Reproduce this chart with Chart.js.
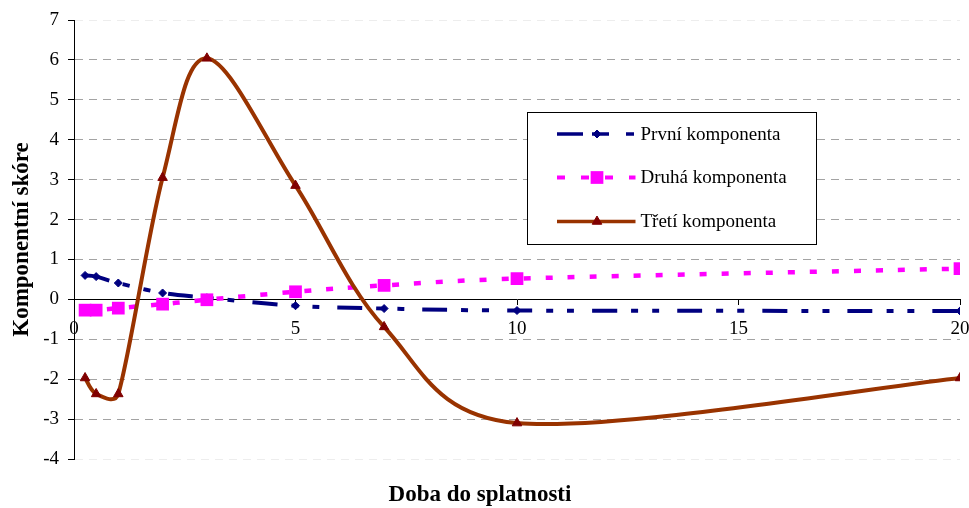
<!DOCTYPE html>
<html>
<head>
<meta charset="utf-8">
<title>Komponentní skóre</title>
<script src="https://cdn.jsdelivr.net/npm/chart.js@4.4.1/dist/chart.umd.min.js"></script>
<style>
  html, body { margin: 0; padding: 0; background: #ffffff; }
  canvas { display: block; }
</style>
</head>
<body>
<canvas id="chart" width="969" height="508"></canvas>
<script>
// Doba do splatnosti (roky)
const maturities = [0.25, 0.5, 1, 2, 3, 5, 7, 10, 20];

// Skóre hlavních komponent
const prvniKomponenta = [0.60, 0.57, 0.41, 0.16, 0.04, -0.16, -0.23, -0.28, -0.29];
const druhaKomponenta = [-0.27, -0.27, -0.22, -0.12, -0.01, 0.19, 0.35, 0.52, 0.77];
const tretiKomponenta = [-1.97, -2.37, -2.37, 3.05, 6.04, 2.85, -0.69, -3.10, -1.97];

const seriesNames = ['První komponenta', 'Druhá komponenta', 'Třetí komponenta'];
const axisTitles = { x: 'Doba do splatnosti', y: 'Komponentní skóre' };
const xTickStep = 5;
const yTickStep = 1;

const SERIF = "'Liberation Serif', 'Times New Roman', serif";

function toPoints(values) {
  return maturities.map((m, i) => ({ x: m, y: values[i] }));
}

// Spreadsheet-style smoothing: Catmull-Rom tangents (1/6 of the neighbour
// chord), each control arm limited to half of its adjacent segment.
const spreadsheetSmoothing = {
  id: 'spreadsheetSmoothing',
  beforeDatasetsDraw(chart) {
    chart.data.datasets.forEach((ds, di) => {
      const meta = chart.getDatasetMeta(di);
      if (!meta.dataset) return;
      meta.dataset.updateControlPoints(chart.chartArea, 'x');
      const pts = meta.data;
      const n = pts.length;
      for (let i = 0; i < n; i++) {
        const p = pts[i];
        const prev = pts[Math.max(i - 1, 0)];
        const next = pts[Math.min(i + 1, n - 1)];
        const tx = (next.x - prev.x) / 6;
        const ty = (next.y - prev.y) / 6;
        const len = Math.hypot(tx, ty);
        const dPrev = Math.hypot(p.x - prev.x, p.y - prev.y);
        const dNext = Math.hypot(next.x - p.x, next.y - p.y);
        const sIn = len > 0.5 * dPrev && len > 0 ? (0.5 * dPrev) / len : 1;
        const sOut = len > 0.5 * dNext && len > 0 ? (0.5 * dNext) / len : 1;
        p.cp1x = p.x - tx * sIn;
        p.cp1y = p.y - ty * sIn;
        p.cp2x = p.x + tx * sOut;
        p.cp2y = p.y + ty * sOut;
      }
      meta.dataset._path = undefined;
    });
  }
};

// Legend drawn inside the plot, with a line sample and marker per series
const boxLegend = {
  id: 'boxLegend',
  afterDatasetsDraw(chart) {
    const { ctx, chartArea } = chart;
    const left = chartArea.left + 453.5;
    const top = chartArea.top + 92.5;
    const width = 289;
    const height = 132;
    ctx.save();
    ctx.fillStyle = '#ffffff';
    ctx.fillRect(left, top, width, height);
    ctx.strokeStyle = '#000000';
    ctx.lineWidth = 1;
    ctx.setLineDash([]);
    ctx.strokeRect(left, top, width, height);

    const rowY = [top + 21.5, top + 65, top + 109];
    const lineX0 = left + 29.5;
    const lineX1 = left + 108;
    const markX = left + 69.5;
    const textX = left + 113;

    chart.data.datasets.forEach((ds, i) => {
      const y = rowY[i];
      ctx.save();
      ctx.strokeStyle = ds.borderColor;
      ctx.lineWidth = ds.legendLineWidth || ds.borderWidth;
      ctx.lineCap = 'butt';
      ctx.setLineDash(ds.legendDash || []);
      ctx.beginPath();
      ctx.moveTo(lineX0, y);
      ctx.lineTo(lineX1, y);
      ctx.stroke();
      ctx.setLineDash([]);
      ctx.fillStyle = ds.pointBackgroundColor;
      ctx.strokeStyle = ds.pointBorderColor;
      ctx.lineWidth = ds.pointBorderWidth;
      Chart.helpers.drawPoint(ctx, {
        pointStyle: ds.pointStyle,
        radius: ds.pointRadius,
        rotation: 0,
        borderWidth: ds.pointBorderWidth
      }, markX, y);
      ctx.restore();

      ctx.fillStyle = '#000000';
      ctx.font = '19px ' + SERIF;
      ctx.textAlign = 'left';
      ctx.textBaseline = 'middle';
      ctx.fillText(ds.label, textX, y + 1);
    });
    ctx.restore();
  }
};

new Chart(document.getElementById('chart'), {
  type: 'line',
  data: {
    datasets: [
      {
        label: seriesNames[0],
        data: toPoints(prvniKomponenta),
        borderColor: '#000080',
        borderWidth: 4,
        borderDash: [25, 14, 7, 14, 7, 18],
        legendDash: [26, 9, 17, 17, 8, 10],
        legendLineWidth: 3.5,
        pointStyle: 'rectRot',
        pointRadius: 4,
        pointBackgroundColor: '#000080',
        pointBorderColor: '#000080',
        pointBorderWidth: 1,
        tension: 0.35,
        order: 2
      },
      {
        label: seriesNames[1],
        data: toPoints(druhaKomponenta),
        borderColor: '#ff00ff',
        borderWidth: 4.5,
        borderDash: [7, 15],
        legendDash: [8, 16],
        legendLineWidth: 4,
        pointStyle: 'rect',
        pointRadius: 9,
        pointBackgroundColor: '#ff00ff',
        pointBorderColor: '#ff00ff',
        pointBorderWidth: 0,
        tension: 0.35,
        order: 1
      },
      {
        label: seriesNames[2],
        data: toPoints(tretiKomponenta),
        borderColor: '#993300',
        borderWidth: 4,
        legendDash: [],
        legendLineWidth: 3.5,
        pointStyle: 'triangle',
        pointRadius: 5.5,
        pointBackgroundColor: '#800000',
        pointBorderColor: '#800000',
        pointBorderWidth: 1,
        tension: 0.35,
        order: 0
      }
    ]
  },
  options: {
    responsive: false,
    animation: false,
    events: [],
    layout: { padding: { top: 20, right: 9, bottom: 0, left: 0 } },
    plugins: {
      legend: { display: false },
      tooltip: { enabled: false },
      title: {
        display: true,
        position: 'bottom',
        text: axisTitles.x,
        color: '#000000',
        font: { family: SERIF, size: 23, weight: 'bold', lineHeight: 1 },
        padding: { top: 25, bottom: 1 }
      }
    },
    scales: {
      x: {
        type: 'linear',
        min: 0,
        max: 20,
        position: { y: 0 },
        ticks: {
          stepSize: xTickStep,
          color: '#000000',
          font: { family: SERIF, size: 19 },
          padding: 13,
          maxRotation: 0,
          autoSkip: false
        },
        grid: {
          display: true,
          drawOnChartArea: false,
          drawTicks: true,
          tickLength: 5,
          tickColor: '#000000',
          tickWidth: 1
        },
        border: { display: true, color: '#000000', width: 1 },
        afterFit(scale) {
          scale.height = 0;
          scale.paddingLeft = 0;
          scale.paddingRight = 0;
        }
      },
      y: {
        type: 'linear',
        min: -4,
        max: 7,
        position: 'left',
        ticks: {
          stepSize: yTickStep,
          color: '#000000',
          font: { family: SERIF, size: 19 },
          padding: 9
        },
        grid: {
          color(ctx) {
            const v = ctx.tick ? ctx.tick.value : null;
            if (v === 0) return 'rgba(0,0,0,0)';
            if (v === 7 || v === -4) return '#ededed';
            return '#a3a3a3';
          },
          lineWidth: 1,
          tickLength: 6,
          tickColor: '#000000',
          tickWidth: 1
        },
        border: { display: true, color: '#000000', width: 1, dash: [8, 6] },
        title: {
          display: true,
          text: axisTitles.y,
          color: '#000000',
          font: { family: SERIF, size: 23, weight: 'bold', lineHeight: 1 },
          padding: { top: 11, bottom: 0 }
        },
        afterFit(scale) {
          scale.width = 74;
          scale.paddingTop = 0;
          scale.paddingBottom = 0;
        }
      }
    }
  },
  plugins: [spreadsheetSmoothing, boxLegend]
});
</script>
</body>
</html>
